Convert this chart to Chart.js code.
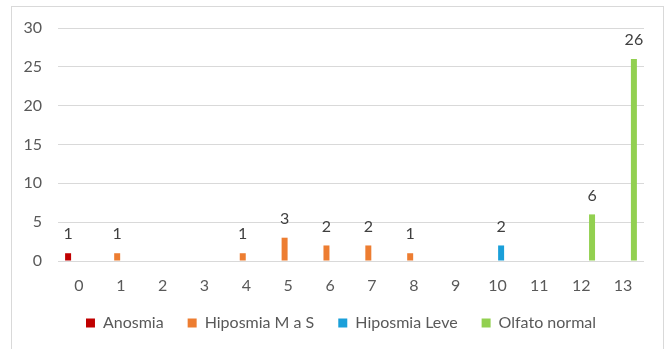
<!DOCTYPE html>
<html>
<head>
<meta charset="utf-8">
<script src="https://cdn.jsdelivr.net/npm/chart.js@4"></script>
<style>
  body { margin: 0; background: #fff; }
  #frame { position: absolute; left: 11px; top: 6px; width: 651px; height: 400px; border: 1px solid #d9d9d9; }
  #chart { position: absolute; left: 0; top: 0; }
</style>
</head>
<body>
<div id="frame"></div>
<canvas id="chart" width="671" height="349"></canvas>
<script>
// scores 0..13, count of people per smell group
const labels = ['0', '1', '2', '3', '4', '5', '6', '7', '8', '9', '10', '11', '12', '13'];
const anosmia = [1, null, null, null, null, null, null, null, null, null, null, null, null, null];
const hiposmiaMaS = [null, 1, null, null, 1, 3, 2, 2, 1, null, null, null, null, null];
const hiposmiaLeve = [null, null, null, null, null, null, null, null, null, null, 2, null, null, null];
const olfatoNormal = [null, null, null, null, null, null, null, null, null, null, null, null, 6, 26];

const FONT = 'Lato';

// numbers on top of each bar
const barValues = {
    id: 'barValues',
    afterDatasetsDraw(chart) {
        const ctx = chart.ctx;
        ctx.save();
        ctx.font = '16px ' + FONT;
        ctx.fillStyle = '#404040';
        ctx.textAlign = 'center';
        ctx.textBaseline = 'middle';
        chart.data.datasets.forEach((ds, i) => {
            chart.getDatasetMeta(i).data.forEach((bar, j) => {
                const v = ds.data[j];
                if (v == null) return;
                ctx.fillText(String(v), bar.x, bar.y - 19);
            });
        });
        ctx.restore();
    }
};

// nudge the legend so it sits centred under the whole frame, not just the plot
const legendShift = {
    id: 'legendShift',
    afterLayout(chart) {
        if (!chart.legend) return;
        chart.legend.left += 19;
        chart.legend.right += 19;
    }
};

const ctx = document.getElementById('chart').getContext('2d');
const chart = new Chart(ctx, {
    type: 'bar',
    data: {
        labels: labels,
        datasets: [
            { label: 'Anosmia', data: anosmia, backgroundColor: '#c00000' },
            { label: 'Hiposmia M a S', data: hiposmiaMaS, backgroundColor: '#ed7d31' },
            { label: 'Hiposmia Leve', data: hiposmiaLeve, backgroundColor: '#1a9fd9' },
            { label: 'Olfato normal', data: olfatoNormal, backgroundColor: '#92d050' }
        ]
    },
    options: {
        responsive: false,
        animation: false,
        datasets: {
            bar: { categoryPercentage: 0.69, barPercentage: 0.83 }
        },
        layout: { padding: { left: 0, right: 27, top: 28, bottom: 8 } },
        scales: {
            x: {
                grid: { display: false },
                border: { display: false },
                ticks: { color: '#595959', font: { family: FONT, size: 16 }, padding: 7 },
                afterFit(scale) { scale.height = 30; }
            },
            y: {
                min: 0,
                max: 30,
                grid: { color: '#d9d9d9', drawTicks: false },
                border: { display: false },
                ticks: { stepSize: 5, color: '#595959', font: { family: FONT, size: 16 }, padding: 16 },
                afterFit(scale) { scale.width = 58; }
            }
        },
        plugins: {
            legend: {
                position: 'bottom',
                labels: {
                    boxWidth: 9,
                    boxHeight: 9,
                    padding: 24,
                    color: '#595959',
                    font: { family: FONT, size: 16 }
                }
            },
            tooltip: { enabled: false }
        }
    },
    plugins: [barValues, legendShift]
});
</script>
</body>
</html>
